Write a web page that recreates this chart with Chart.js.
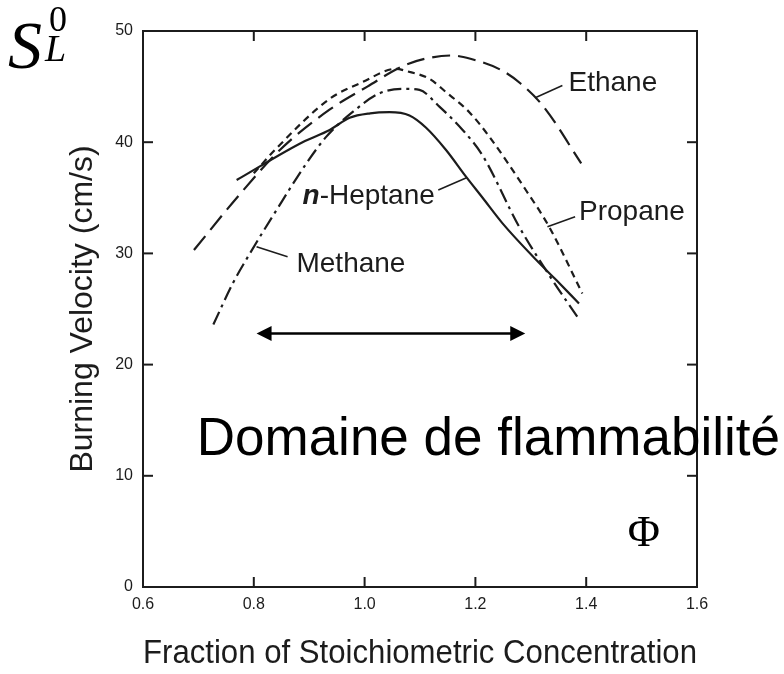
<!DOCTYPE html>
<html>
<head>
<meta charset="utf-8">
<script src="https://cdn.jsdelivr.net/npm/chart.js@4.4.1/dist/chart.umd.min.js"></script>
<style>
  html, body { margin: 0; padding: 0; background: #fff; }
</style>
</head>
<body>
<canvas id="chart" width="784" height="674"></canvas>
<script>
// Vitesse de flamme laminaire en fonction de la richesse (phi)
const ethanePhi   = [0.692, 0.771, 0.847, 0.936, 1.005, 1.067, 1.109, 1.157, 1.191, 1.246, 1.281, 1.323, 1.391];
const ethaneV     = [30.3, 35.1, 39.3, 42.9, 45.0, 46.8, 47.5, 47.8, 47.5, 46.5, 45.3, 43.2, 38.1];

const propanePhi  = [0.800, 0.838, 0.937, 0.996, 1.057, 1.075, 1.117, 1.147, 1.189, 1.225, 1.291, 1.333, 1.393];
const propaneV    = [37.2, 39.3, 43.9, 45.4, 46.6, 46.4, 45.7, 44.5, 42.7, 40.5, 35.7, 32.4, 26.4];

const methanePhi  = [0.727, 0.762, 0.793, 0.841, 0.895, 0.931, 0.978, 1.027, 1.072, 1.099, 1.135, 1.177, 1.213, 1.279, 1.339, 1.384];
const methaneV    = [23.6, 27.3, 30.0, 33.9, 38.1, 40.5, 42.7, 44.4, 44.8, 44.7, 43.2, 41.1, 38.8, 32.4, 27.6, 24.3];

const heptanePhi  = [0.769, 0.888, 0.937, 0.973, 1.010, 1.045, 1.081, 1.111, 1.147, 1.183, 1.213, 1.249, 1.310, 1.346, 1.387];
const heptaneV    = [36.6, 40.0, 41.1, 42.2, 42.6, 42.7, 42.4, 41.3, 39.3, 36.9, 35.0, 32.7, 29.4, 27.6, 25.5];

const xTicks = [0.6, 0.8, 1.0, 1.2, 1.4, 1.6];
const yTicks = [0, 10, 20, 30, 40, 50];

// domaine de flammabilité (flèche double)
const domainRange = [0.805, 1.29];
const domainLevel = 22.8;

// étiquettes des courbes : texte, position du texte, trait de rappel
const curveLabels = [
  { text: 'Ethane',  at: [1.368, 45.3], from: [1.308, 44.0], to: [1.357, 45.1] },
  { text: 'Propane', at: [1.387, 33.7], from: [1.330, 32.4], to: [1.380, 33.3] },
  { text: 'Heptane', prefix: 'n', at: [0.888, 35.1], from: [1.184, 36.8], to: [1.133, 35.7] },
  { text: 'Methane', at: [0.877, 29.0], from: [0.805, 30.6], to: [0.861, 29.7] }
];

const ink = '#1c1c1c';
const sans = "'Liberation Sans', Arial, sans-serif";
const serif = "'Liberation Serif', 'Times New Roman', serif";

function points(xs, ys) {
  return xs.map((v, i) => ({ x: v, y: ys[i] }));
}

function curve(label, xs, ys, dash) {
  return {
    label: label,
    data: points(xs, ys),
    borderColor: ink,
    borderWidth: 2.2,
    borderDash: dash,
    pointRadius: 0,
    fill: false,
    cubicInterpolationMode: 'monotone'
  };
}

function seg(ctx, x1, y1, x2, y2) {
  ctx.beginPath();
  ctx.moveTo(x1, y1);
  ctx.lineTo(x2, y2);
  ctx.stroke();
}

// cadre, graduations intérieures, annotations
const overlay = {
  id: 'overlay',
  afterDatasetsDraw(chart) {
    const { ctx, chartArea: a, scales: { x, y } } = chart;
    ctx.save();
    ctx.strokeStyle = ink;
    ctx.fillStyle = ink;
    ctx.lineWidth = 2;
    ctx.setLineDash([]);
    ctx.strokeRect(a.left, a.top, a.right - a.left, a.bottom - a.top);

    xTicks.slice(1, -1).forEach(v => {
      const px = x.getPixelForValue(v);
      seg(ctx, px, a.bottom, px, a.bottom - 10);
      seg(ctx, px, a.top, px, a.top + 10);
    });
    yTicks.slice(1, -1).forEach(v => {
      const py = y.getPixelForValue(v);
      seg(ctx, a.left, py, a.left + 10, py);
      seg(ctx, a.right, py, a.right - 10, py);
    });

    // étiquettes
    ctx.lineWidth = 1.5;
    ctx.textBaseline = 'middle';
    ctx.textAlign = 'left';
    curveLabels.forEach(l => {
      seg(ctx, x.getPixelForValue(l.from[0]), y.getPixelForValue(l.from[1]),
               x.getPixelForValue(l.to[0]), y.getPixelForValue(l.to[1]));
      let tx = x.getPixelForValue(l.at[0]);
      const ty = y.getPixelForValue(l.at[1]);
      if (l.prefix) {
        ctx.font = `italic bold 28px ${sans}`;
        ctx.fillText(l.prefix, tx, ty);
        tx += ctx.measureText(l.prefix).width;
        ctx.font = `28px ${sans}`;
        ctx.fillText('-' + l.text, tx, ty);
      } else {
        ctx.font = `28px ${sans}`;
        ctx.fillText(l.text, tx, ty);
      }
    });

    // flèche double
    ctx.fillStyle = '#000';
    ctx.strokeStyle = '#000';
    ctx.lineWidth = 2.5;
    const ax1 = x.getPixelForValue(domainRange[0]);
    const ax2 = x.getPixelForValue(domainRange[1]);
    const ay = y.getPixelForValue(domainLevel);
    seg(ctx, ax1 + 10, ay, ax2 - 10, ay);
    ctx.beginPath();
    ctx.moveTo(ax1, ay); ctx.lineTo(ax1 + 15, ay - 7.5); ctx.lineTo(ax1 + 15, ay + 7.5);
    ctx.closePath(); ctx.fill();
    ctx.beginPath();
    ctx.moveTo(ax2, ay); ctx.lineTo(ax2 - 15, ay - 7.5); ctx.lineTo(ax2 - 15, ay + 7.5);
    ctx.closePath(); ctx.fill();

    ctx.font = `53px ${sans}`;
    ctx.fillText('Domaine de flammabilité', x.getPixelForValue(0.697), y.getPixelForValue(13.2));

    ctx.textAlign = 'center';
    ctx.font = `44px ${serif}`;
    ctx.fillText('Φ', x.getPixelForValue(1.504), y.getPixelForValue(4.7));

    // S_L^0
    ctx.textAlign = 'left';
    ctx.textBaseline = 'alphabetic';
    ctx.font = `italic 68px ${serif}`;
    ctx.fillText('S', 8, 68);
    ctx.font = `36px ${serif}`;
    ctx.fillText('0', 49, 31);
    ctx.font = `italic 38px ${serif}`;
    ctx.fillText('L', 45, 61);
    ctx.restore();
  }
};

new Chart(document.getElementById('chart'), {
  type: 'line',
  data: {
    datasets: [
      curve('Ethane', ethanePhi, ethaneV, [18, 8]),
      curve('Propane', propanePhi, propaneV, [7, 5]),
      curve('Methane', methanePhi, methaneV, [14, 5, 3, 5]),
      curve('n-Heptane', heptanePhi, heptaneV, [])
    ]
  },
  options: {
    responsive: false,
    animation: false,
    layout: { padding: { top: 31, right: 87, left: 0, bottom: 0 } },
    plugins: { legend: { display: false }, tooltip: { enabled: false } },
    scales: {
      x: {
        type: 'linear',
        min: 0.6,
        max: 1.6,
        afterBuildTicks: s => { s.ticks = xTicks.map(v => ({ value: v })); },
        afterFit: s => { s.height = 87; },
        grid: { drawOnChartArea: false, drawTicks: false },
        border: { display: false },
        ticks: {
          padding: 8,
          color: ink,
          font: { family: sans, size: 16 },
          callback: v => v.toFixed(1)
        },
        title: {
          display: true,
          text: 'Fraction of Stoichiometric Concentration',
          color: ink,
          font: { family: sans, size: 33 },
          padding: { top: 0, bottom: 0 }
        }
      },
      y: {
        min: 0,
        max: 50,
        afterBuildTicks: s => { s.ticks = yTicks.map(v => ({ value: v })); },
        afterFit: s => { s.width = 143; },
        grid: { drawOnChartArea: false, drawTicks: false },
        border: { display: false },
        ticks: {
          padding: 10,
          color: ink,
          font: { family: sans, size: 16 }
        },
        title: {
          display: true,
          text: 'Burning Velocity (cm/s)',
          color: ink,
          font: { family: sans, size: 32 },
          padding: { top: 64, bottom: 0 }
        }
      }
    }
  },
  plugins: [overlay]
});
</script>
</body>
</html>
